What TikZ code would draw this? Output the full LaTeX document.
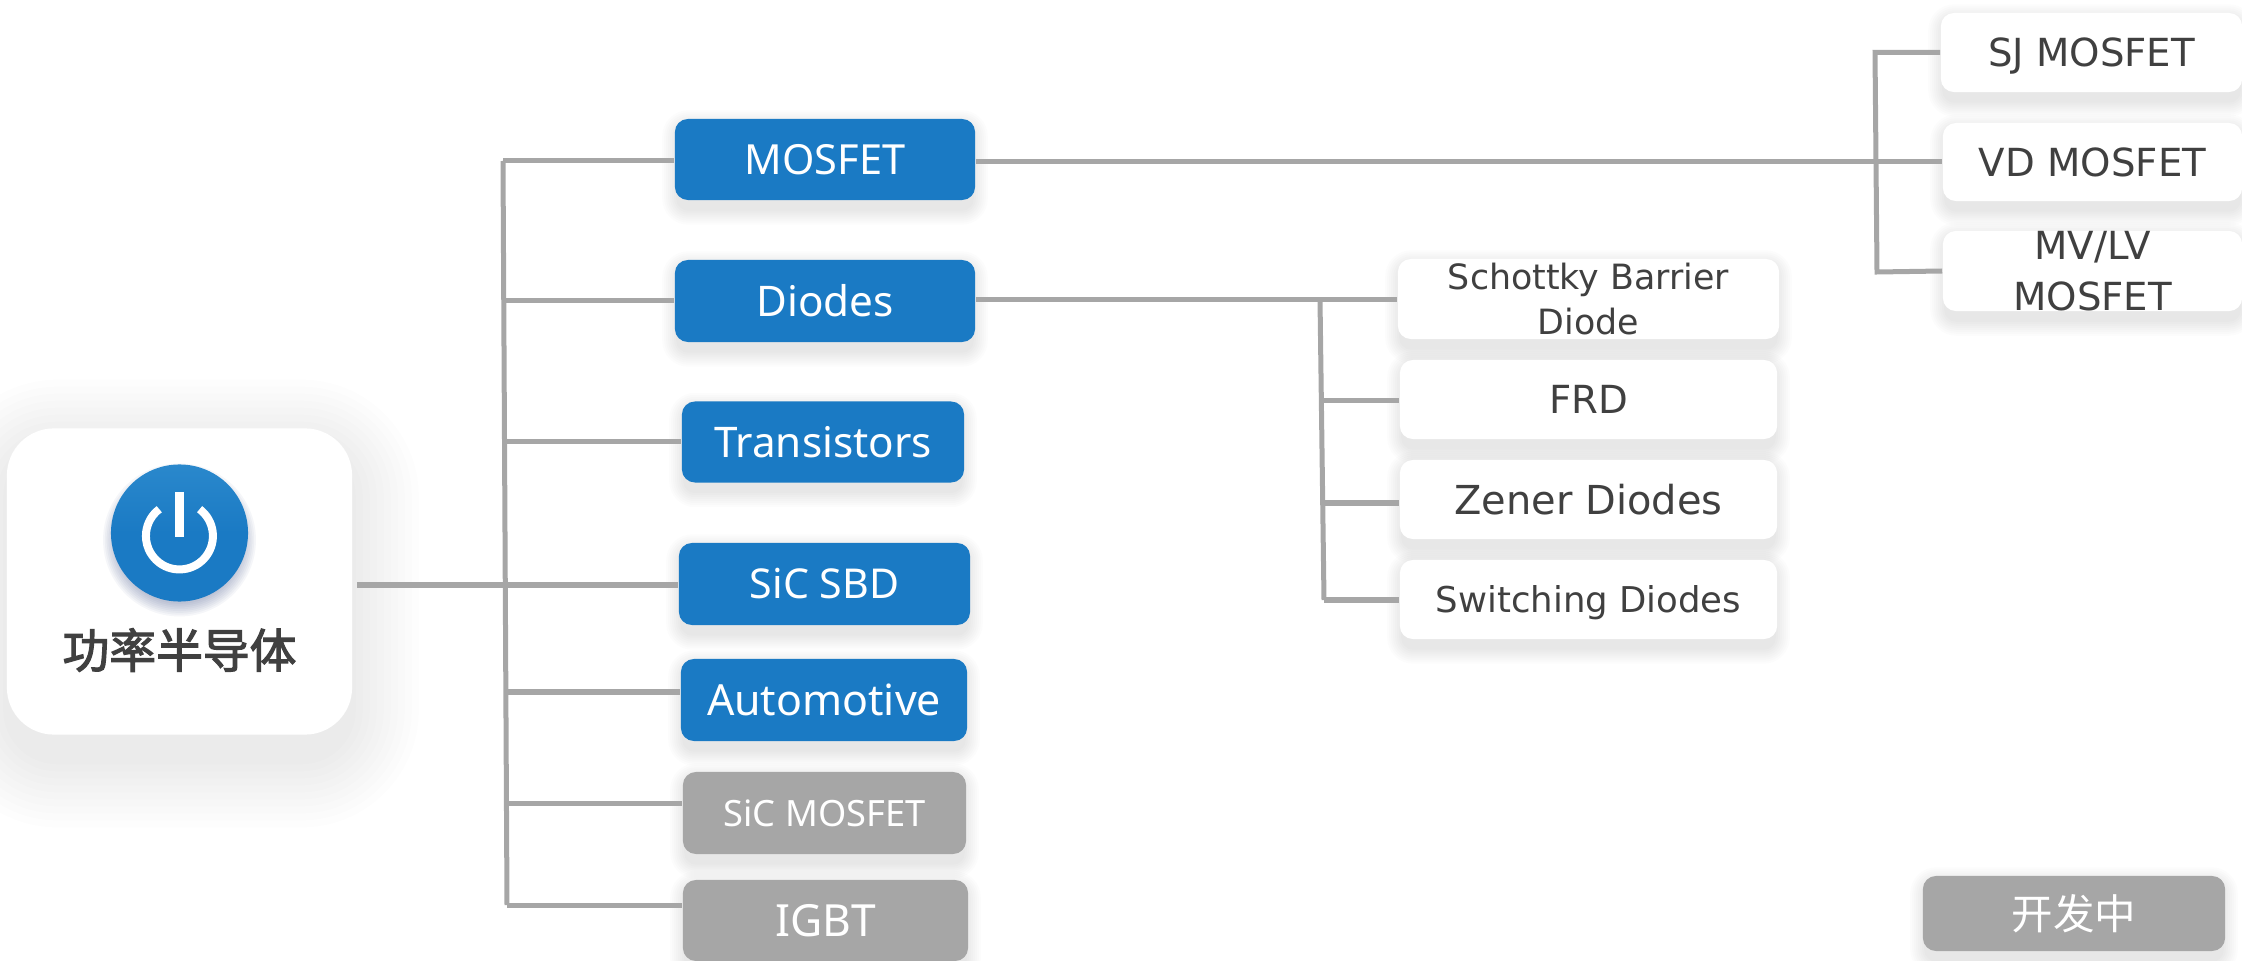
\documentclass[tikz,border=0pt]{standalone}
\usepackage{fontspec}
\setmainfont{Noto Sans}
\newfontfamily\cardfont{DejaVu Sans}
\newfontfamily\cjkfont{Noto Sans CJK SC}
\newfontfamily\cjkmedium[FakeBold=2.5]{Noto Sans CJK SC}
\usetikzlibrary{backgrounds}
\definecolor{powerblue}{HTML}{1A7AC4}
\definecolor{lightblue}{HTML}{2A88CC}
\definecolor{iconshadow}{HTML}{2A3F7F}
\definecolor{linegray}{HTML}{A6A6A6}
\definecolor{textgray}{HTML}{404040}
\tikzset{
  link/.style={linegray,line width=0.05cm},
  bluebox/.style={fill=powerblue,text=white,rounded corners=0.13cm,inner sep=0pt,font=\fontsize{12}{14}\selectfont},
  graybox/.style={fill=linegray,text=white,rounded corners=0.13cm,inner sep=0pt,font=\fontsize{12.6}{14}\selectfont},
  cardbox/.style={fill=white,text=textgray,rounded corners=0.13cm,inner sep=0pt,align=center,minimum width=3.77cm,minimum height=0.79cm,font=\cardfont\fontsize{11}{14.6}\selectfont},
}
% stacked soft shadow: node, growth per step, drop, opacity, corner, steps
\newcommand{\softshadow}[6]{
  \begin{pgfonlayer}{background}
    \foreach \i in {1,...,#6} {
      \fill[black,opacity=#4,rounded corners=#5+\i*#2]
        ([shift={(-\i*#2+0.04cm,-#3-\i*#2)}]#1.south west) rectangle ([shift={(\i*#2-0.04cm,-#3+\i*#2)}]#1.north east);
    }
  \end{pgfonlayer}
}
\begin{document}
\begin{tikzpicture}[x=0.01cm,y=-0.01cm]
  \useasboundingbox (0,0) rectangle (2242,961);

  % root card
  \node[fill=white,rounded corners=0.47cm,minimum width=3.45cm,minimum height=3.06cm] (root) at (179.5,581.5) {};
  \coordinate (iconpos) at (179.5,533);
  \foreach \i in {1,...,8} {
    \fill[iconshadow,opacity=0.045] ([yshift=-0.07cm]iconpos) circle [radius=0.62cm+\i*0.018cm];
  }
  \node[circle,shade,top color=lightblue,bottom color=powerblue,middle color=powerblue,minimum size=1.37cm,inner sep=0pt] (icon) at (iconpos) {};
  \node[text=textgray,font=\cjkmedium\fontsize{13.3}{15}\selectfont] (rootlabel) at (179.5,650) {功率半导体};
  \coordinate (bartop) at (179.5,492);
  \coordinate (barend) at (179.5,537);
  \coordinate (arcstart) at (199.6,509.2);
  \draw[white,line width=0.08cm] (bartop) -- (barend);
  \draw[white,line width=0.08cm] (arcstart) arc [start angle=-53,end angle=233,radius=33.5];

  % first level
  \node[bluebox,minimum width=3cm,minimum height=0.81cm,font=\fontsize{11.8}{14}\selectfont] (mosfet) at (825,159.5) {MOSFET};
  \node[bluebox,minimum width=3cm,minimum height=0.82cm] (diodes) at (825,301) {Diodes};
  \node[bluebox,minimum width=2.82cm,minimum height=0.81cm] (transistors) at (823,442) {Transistors};
  \node[bluebox,minimum width=2.91cm,minimum height=0.82cm,font=\fontsize{11.7}{14}\selectfont] (sicsbd) at (824.5,584) {SiC SBD};
  \node[bluebox,minimum width=2.86cm,minimum height=0.82cm,font=\fontsize{12.2}{14}\selectfont] (automotive) at (824,700) {Automotive};
  \node[graybox,minimum width=2.83cm,minimum height=0.82cm,font=\fontsize{10.3}{12}\selectfont] (sicmosfet) at (824.5,813) {SiC MOSFET};
  \node[graybox,minimum width=2.85cm,minimum height=0.81cm] (igbt) at (825.5,920.5) {IGBT};

  % diode types
  \node[cardbox,minimum width=3.81cm,minimum height=0.8cm,font=\cardfont\fontsize{9.9}{13}\selectfont] (schottky) at (1588.5,299) {Schottky Barrier\\Diode};
  \node[cardbox] (frd) at (1588.5,399.5) {FRD};
  \node[cardbox,font=\cardfont\fontsize{11.35}{14}\selectfont] (zener) at (1588.5,499.5) {Zener Diodes};
  \node[cardbox,text depth=0pt,font=\cardfont\fontsize{10.1}{12}\selectfont] (switching) at (1588.5,599.5) {Switching Diodes};

  % mosfet types
  \node[cardbox,text depth=0pt,minimum width=3.01cm] (sj) at (2091.5,52.5) {SJ MOSFET};
  \node[cardbox,minimum width=2.99cm,minimum height=0.78cm] (vd) at (2092.5,162) {VD MOSFET};
  \node[cardbox,minimum width=2.99cm,minimum height=0.78cm] (mvlv) at (2092.5,271) {MV/LV\\MOSFET};

  \node[graybox,minimum width=3.02cm,minimum height=0.75cm,font=\cjkfont\fontsize{11.8}{14}\selectfont] (legend) at (2074,913.5) {开发中};

  \softshadow{root}{0.07cm}{0.22cm}{0.009}{0.47cm}{10}
  \foreach \n in {mosfet,diodes,transistors,sicsbd,automotive,sicmosfet,igbt,schottky,frd,zener,switching,sj,vd,mvlv,legend} {
    \softshadow{\n}{0.02cm}{0.08cm}{0.013}{0.1cm}{8}
  }

  % trunk to first level
  \coordinate (trunktop) at (503,161);
  \coordinate (trunkdiodes) at (504,301);
  \coordinate (trunktrans) at (505,442);
  \coordinate (trunksbd) at (505.5,585);
  \coordinate (trunkauto) at (506,692);
  \coordinate (trunksic) at (506.5,803);
  \coordinate (trunkend) at (507,905);
  \draw[link] (trunktop) -- (trunkend);
  \draw[link,shorten <=0.04cm] (root.east |- trunksbd) -- (trunksbd -| sicsbd.west);
  \foreach \a/\b in {trunktop/mosfet,trunkdiodes/diodes,trunktrans/transistors,trunkauto/automotive,trunksic/sicmosfet,trunkend/igbt} {
    \draw[link] (\a) -- (\a -| \b.west);
  }

  % diode branch
  \coordinate (dtop) at (1320,299.5);
  \coordinate (dfrd) at (1322,401);
  \coordinate (dzener) at (1323,503);
  \coordinate (dend) at (1324,600);
  \draw[link] (dtop -| diodes.east) -- (dtop -| schottky.west);
  \draw[link] (dtop) -- (dend);
  \foreach \a/\b in {dfrd/frd,dzener/zener,dend/switching} {
    \draw[link] (\a) -- (\a -| \b.west);
  }

  % mosfet branch
  \coordinate (mtop) at (1875,52.5);
  \coordinate (mend) at (1877,272);
  \coordinate (mmid) at (1876,162);
  \draw[link] (mmid -| mosfet.east) -- (mmid) -- (vd.west);
  \draw[link] (sj.west) -- (mtop) -- (mend) -- (mvlv.west);
\end{tikzpicture}
\end{document}
